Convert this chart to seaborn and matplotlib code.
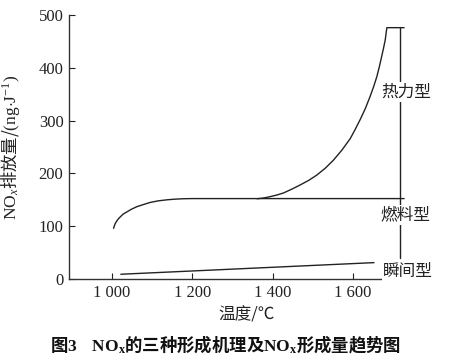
import matplotlib
matplotlib.use("Agg")
import matplotlib.pyplot as plt
import seaborn as sns
import pandas as pd

# ---- data ----
fuel_T = [1004, 1006, 1008, 1012, 1016, 1021, 1028, 1037, 1048, 1062, 1078, 1095, 1115, 1137, 1158, 1178, 1200, 1727]
fuel_v = [96, 101, 105, 110, 114, 118, 123, 127, 132, 137, 141, 145, 148, 150, 151.3, 152, 152.3, 152.3]
thermal_T = [1361, 1378, 1394, 1410, 1427, 1447, 1468, 1490, 1510, 1531, 1551, 1572, 1593, 1605, 1617, 1630, 1642, 1651, 1659, 1665, 1671, 1676, 1680, 1684, 1727]
thermal_v = [152, 153.5, 156, 159, 163, 170, 178, 187, 197, 210, 225, 244, 266, 283, 301, 322, 345, 364, 383, 401, 421, 438, 453, 476, 476]
prompt_T = [1022, 1652]
prompt_v = [9, 31]
bracket_T = [1717, 1717]
bracket_v = [476, 40]
labels = ["热力型", "燃料型", "瞬间型"]
label_T = [1732, 1729, 1737]
label_v = [354, 121, 15]
xticks = [1000, 1200, 1400, 1600]
xtick_labels = ["1 000", "1 200", "1 400", "1 600"]
yticks = [0, 100, 200, 300, 400, 500]

sns.set_theme(style="ticks")
plt.rcParams["font.family"] = ["Liberation Serif", "Noto Sans CJK SC", "DejaVu Sans"]
plt.rcParams["mathtext.fontset"] = "custom"
plt.rcParams["mathtext.rm"] = "Liberation Serif"
plt.rcParams["mathtext.it"] = "Liberation Serif:italic"
plt.rcParams["mathtext.bf"] = "Liberation Serif:bold"

fig = plt.figure(figsize=(4.51, 3.59), dpi=100)
ax = fig.add_axes([69/451, 1-279/359, (421-69)/451, (279-15)/359])

lc = "#222222"
lw = 1.0
for T, v in [(fuel_T, fuel_v), (thermal_T, thermal_v), (prompt_T, prompt_v), (bracket_T, bracket_v)]:
    df = pd.DataFrame({"T": T, "v": v})
    sns.lineplot(data=df, x="T", y="v", ax=ax, color=lc, linewidth=lw, sort=False,
                 estimator=None, zorder=2)

cjk = ["Noto Sans CJK SC", "DejaVu Sans"]
for s, x, y in zip(labels, label_T, label_v):
    ax.text(x, y, s, ha="center", va="center", fontsize=12, color="#222222",
            family=cjk, clip_on=False, zorder=5,
            bbox=dict(facecolor="white", edgecolor="none", pad=0.8))

ax.set_xlim(893, 1769)
ax.set_ylim(0, 500)
ax.set_xticks(xticks)
ax.set_xticklabels(xtick_labels)
ax.set_yticks(yticks)
ax.tick_params(direction="in", length=4, width=0.8, labelsize=12, colors="#222222", pad=4)
for sp in ["left", "bottom"]:
    ax.spines[sp].set_linewidth(1.0)
    ax.spines[sp].set_color("#333333")
sns.despine(ax=ax)

ax.set_xlabel("温度/℃", fontsize=12, family=cjk, color="#222222")
ax.xaxis.set_label_coords((247-69)/(421-69), -(307-279)/(279-15))
ax.set_ylabel(r"$\mathrm{NO}_x$排放量/$\mathrm{(ng{\cdot}J^{-1})}$", fontsize=12.5,
              family=cjk, color="#222222")
ax.yaxis.set_label_coords(-(69-22)/(421-69), 0.5)

fig.text(226/451, 1-345/359,
         r"图$\mathbf{3}$    $\mathbf{NO_{x}}$的三种形成机理及$\mathbf{NO_{x}}$形成量趋势图",
         ha="center", va="center", fontsize=12.5, fontweight="bold", family=cjk, color="#111111")

fig.savefig("out.png", dpi=100)
